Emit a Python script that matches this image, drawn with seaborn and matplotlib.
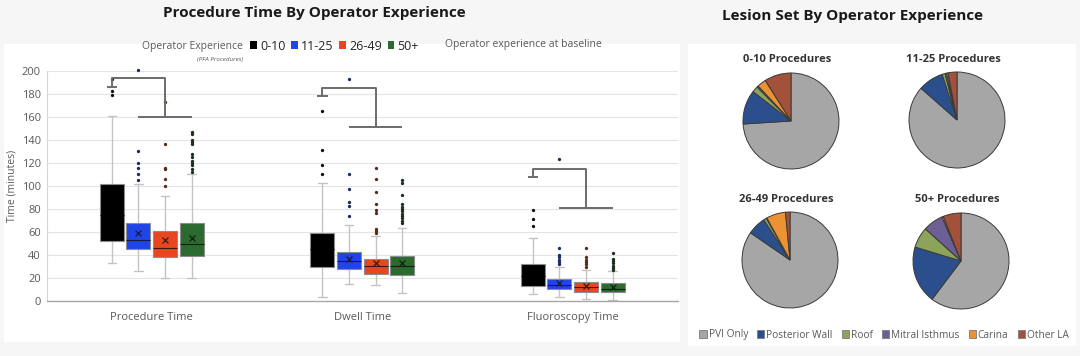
import matplotlib
matplotlib.use("Agg")
import matplotlib.pyplot as plt
import seaborn as sns
from matplotlib.patches import Patch, Rectangle

# ---------------- data ----------------
metrics = ["Procedure Time", "Dwell Time", "Fluoroscopy Time"]
experience = ["0-10", "11-25", "26-49", "50+"]

# box statistics per metric (order: 0-10, 11-25, 26-49, 50+)
q1 = {"Procedure Time": [52, 45, 38, 39],
      "Dwell Time": [30, 28, 24, 23],
      "Fluoroscopy Time": [13, 10.5, 8, 8]}
median = {"Procedure Time": [75, 53, 46, 50],
          "Dwell Time": [45, 35, 31, 31],
          "Fluoroscopy Time": [22, 14, 12, 11]}
q3 = {"Procedure Time": [102, 68, 61, 68],
      "Dwell Time": [59, 43, 37, 39],
      "Fluoroscopy Time": [32, 19, 17, 16]}
whisker_low = {"Procedure Time": [33, 26, 20, 20],
               "Dwell Time": [4, 15, 14, 7],
               "Fluoroscopy Time": [6, 4, 2, 1]}
whisker_high = {"Procedure Time": [161, 102, 91, 110],
                "Dwell Time": [103, 66, 57, 64],
                "Fluoroscopy Time": [55, 30, 27, 26]}
mean = {"Procedure Time": [80, 59, 53, 55],
        "Dwell Time": [47, 37, 33.5, 33],
        "Fluoroscopy Time": [24, 16, 13.5, 12.5]}
outliers = {
    "Procedure Time": [[179, 182, 193],
                       [105, 110, 116, 120, 130, 201],
                       [100, 106, 115, 116, 136, 173],
                       [112, 115, 118, 120, 122, 125, 128, 136, 138, 140, 145, 147]],
    "Dwell Time": [[110, 118, 131, 165],
                   [74, 83, 86, 97, 110, 193],
                   [59, 61, 63, 77, 79, 84, 95, 106, 116],
                   [68, 70, 72, 74, 76, 78, 80, 82, 84, 92, 103, 105]],
    "Fluoroscopy Time": [[65, 71, 79],
                         [32, 34, 36, 38, 40, 46.5, 123],
                         [30, 32, 34, 36, 38, 46],
                         [27, 29, 31, 33, 35, 37, 41.5]],
}
# comparison bracket levels (0-10 vs others)
bracket_cap = [186, 178, 108]
bracket_top = [193.4, 185, 115]
bracket_low = [159.6, 151, 81]

# lesion sets (% of procedures)
lesion_sets = ["PVI Only", "Posterior Wall", "Roof", "Mitral Isthmus", "Carina", "Other LA"]
pie_titles = ["0-10 Procedures", "11-25 Procedures", "26-49 Procedures", "50+ Procedures"]
pie_0_10 = [74, 11.5, 2, 0.5, 3, 9]
pie_11_25 = [86.5, 8.5, 1, 0.5, 0.5, 3]
pie_26_49 = [84.6, 6.2, 1, 0.2, 6.5, 1.5]
pie_50p = [60.3, 19.4, 7, 6.8, 0.5, 6]
pie_values = [pie_0_10, pie_11_25, pie_26_49, pie_50p]

# ---------------- style ----------------
sns.set_theme(style="whitegrid")
plt.rcParams["font.family"] = ["Open Sans", "DejaVu Sans"]

box_colors = ["#000000", "#1f45e6", "#e8461e", "#2b6b30"]
inner_colors = ["#000000", "#1a1a40", "#3a1a10", "#102010"]
flier_colors = ["#111111", "#1c2a66", "#5a2a1a", "#1e2e1e"]
lesion_colors = ["#a6a6a6", "#2a4f8c", "#8ba35a", "#6c5f93", "#eb9232", "#a2513b"]
gray_txt = "#595959"

W, H = 1080, 356
fig = plt.figure(figsize=(W / 100, H / 100), dpi=100, facecolor="#f6f6f6")

def fx(px):
    return px / W

def fy(py):
    return 1 - py / H

# white panels (behind everything)
fig.patches.append(Rectangle((fx(4), fy(342)), fx(676), (342 - 44) / H,
                             transform=fig.transFigure, facecolor="white",
                             edgecolor="none", zorder=-10))
fig.patches.append(Rectangle((fx(688), fy(346)), fx(388), (346 - 44) / H,
                             transform=fig.transFigure, facecolor="white",
                             edgecolor="none", zorder=-10))

# ---------------- box plot panel ----------------
ax = fig.add_axes([fx(46.5), fy(301.3), fx(678 - 46.5), (301.3 - 70.7) / H])
ax.set_facecolor("white")
step = 0.126
width = 0.114
for g, m in enumerate(metrics):
    stats = []
    positions = []
    for i in range(4):
        stats.append(dict(q1=q1[m][i], med=median[m][i], q3=q3[m][i],
                          whislo=whisker_low[m][i], whishi=whisker_high[m][i],
                          mean=mean[m][i], fliers=outliers[m][i], label=experience[i]))
        positions.append(g + (i - 1.5) * step)
    art = ax.bxp(stats, positions=positions, widths=width, patch_artist=True,
                 showmeans=True, capwidths=0.04, manage_ticks=False,
                 boxprops=dict(edgecolor="#8c8c8c", linewidth=0.8),
                 whiskerprops=dict(color="#c4c4c4", linewidth=1.0),
                 capprops=dict(color="#c4c4c4", linewidth=1.0),
                 medianprops=dict(linewidth=0.8),
                 meanprops=dict(marker="x", markersize=4.5, markeredgewidth=0.9),
                 flierprops=dict(marker="o", markersize=2.4, markeredgewidth=0))
    for i in range(4):
        art["boxes"][i].set_facecolor(box_colors[i])
        art["boxes"][i].set_zorder(3)
        art["medians"][i].set_color(inner_colors[i])
        art["medians"][i].set_zorder(4)
        art["means"][i].set_markeredgecolor(inner_colors[i])
        art["means"][i].set_zorder(5)
        fl = art["fliers"][i]
        fl.set_markerfacecolor(flier_colors[i])
        fl.set_clip_on(False)
    # comparison bracket
    c0 = positions[0]
    kw = dict(color="#6b6b6b", linewidth=1.4, clip_on=False, zorder=6, solid_capstyle="butt")
    ax.plot([c0 - 0.024, c0 + 0.024], [bracket_cap[g]] * 2, **kw)
    ax.plot([c0, c0, positions[2], positions[2]],
            [bracket_cap[g], bracket_top[g], bracket_top[g], bracket_low[g]], **kw)
    ax.plot([positions[1], positions[3]], [bracket_low[g]] * 2, **kw)

ax.set_xlim(-0.5, 2.5)
ax.set_ylim(0, 200)
ax.set_yticks(range(0, 201, 20))
ax.set_xticks(range(3))
ax.set_xticklabels(metrics)
ax.tick_params(axis="both", colors=gray_txt, labelsize=8, length=0)
ax.tick_params(axis="x", pad=8)
ax.tick_params(axis="y", pad=4)
ax.grid(axis="y", color="#e4e4e4", linewidth=0.8)
ax.grid(axis="x", visible=False)
sns.despine(ax=ax, top=True, right=True)
ax.spines["left"].set_color("#d6d6d6")
ax.spines["left"].set_linewidth(0.8)
ax.spines["bottom"].set_color("#a8a8a8")
ax.spines["bottom"].set_linewidth(1.0)
ax.set_ylabel("Time (minutes)", color=gray_txt, fontsize=7.5, labelpad=3)
ax.set_axisbelow(True)

fig.text(fx(314), fy(13), "Procedure Time By Operator Experience", ha="center", va="center",
         fontsize=11, fontweight="bold", color="#1a1a1a")
fig.text(fx(243), fy(46), "Operator Experience", ha="right", va="center", fontsize=7.5,
         color=gray_txt)
fig.text(fx(243), fy(59), "(PFA Procedures)", ha="right", va="center", fontsize=4.5,
         color=gray_txt, style="italic")
fig.text(fx(445), fy(45), "Operator experience at baseline", ha="left", va="center",
         fontsize=7.5, color=gray_txt)
leg1 = fig.legend(handles=[Patch(facecolor=c, edgecolor="none") for c in box_colors],
                  labels=experience, loc="center left", bbox_to_anchor=(fx(250), fy(46)),
                  ncol=4, frameon=False, fontsize=9, handlelength=0.55, handleheight=0.55,
                  handletextpad=0.25, columnspacing=0.45, borderpad=0, borderaxespad=0)
for t in leg1.get_texts():
    t.set_color("#262626")

# ---------------- pie panel ----------------
fig.text(fx(853), fy(16), "Lesion Set By Operator Experience", ha="center", va="center",
         fontsize=11, fontweight="bold", color="#1a1a1a")
pie_centers = [(791, 121), (957, 120), (790, 260), (961, 261)]
pie_title_y = [60, 60, 200, 200]
r = 48
for k in range(4):
    cx, cy = pie_centers[k]
    pad = 1.03
    pax = fig.add_axes([fx(cx - r * pad), fy(cy + r * pad), fx(2 * r * pad), 2 * r * pad / H])
    pax.pie(pie_values[k], colors=lesion_colors, startangle=90, counterclock=False,
            wedgeprops=dict(edgecolor="#3a3a3a", linewidth=0.7))
    pax.set_xlim(-pad, pad)
    pax.set_ylim(-pad, pad)
    pax.set_aspect("equal")
    fig.text(fx(cx - 4), fy(pie_title_y[k]), pie_titles[k], ha="center", va="center",
             fontsize=8, fontweight="bold", color="#333333")

leg2 = fig.legend(handles=[Patch(facecolor=c, edgecolor="#7a7a7a", linewidth=0.6)
                           for c in lesion_colors],
                  labels=lesion_sets, loc="center", bbox_to_anchor=(fx(884), fy(335)),
                  ncol=6, frameon=False, fontsize=7.3, handlelength=0.7, handleheight=0.7,
                  handletextpad=0.2, columnspacing=0.9, borderpad=0, borderaxespad=0)
for t in leg2.get_texts():
    t.set_color(gray_txt)

fig.savefig("out.png", dpi=100, facecolor=fig.get_facecolor())
